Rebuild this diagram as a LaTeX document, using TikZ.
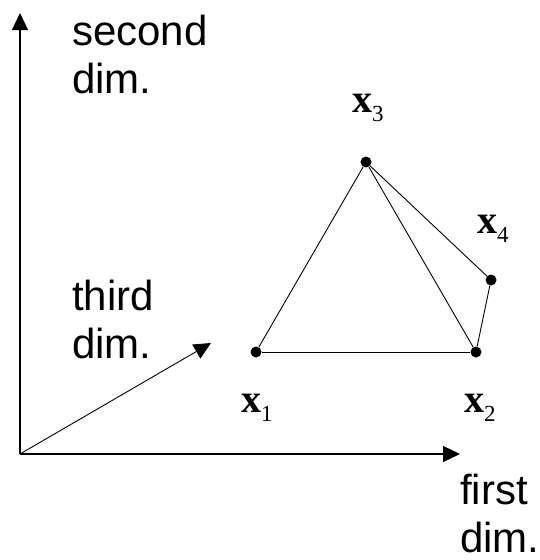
\documentclass[tikz,border=0pt]{standalone}
\usepackage{fontspec}
\setmainfont{Liberation Serif}
\newfontfamily\axisfont{Liberation Sans}
\usetikzlibrary{arrows.meta}
\tikzset{
  axis/.style={line width=1.1pt, -{Triangle[length=17pt,width=16pt]}},
  edge/.style={line width=0.9pt},
  pt/.style={circle, fill=black, inner sep=0pt, minimum size=11pt},
  axlabel/.style={font=\axisfont\fontsize{42}{48}\selectfont, align=left, inner sep=0pt, anchor=base west},
  ptlabel/.style={inner sep=0pt, anchor=base west, font=\fontsize{40}{42}\selectfont}
}
\newcommand{\vlab}[1]{\textbf{x}\raisebox{-9pt}{\fontsize{23}{24}\selectfont #1}}
\begin{document}
\begin{tikzpicture}[x=1pt,y=-1pt]
\useasboundingbox (0,0) rectangle (539,560);
\coordinate (O) at (20,454);
\coordinate (Y) at (20,13);
\coordinate (X) at (460,454);
\coordinate (Z) at (211,343);
\draw[axis] (O) -- (Y);
\draw[axis] (O) -- (X);
\draw[axis, line width=0.9pt] (O) -- (Z);
\node[axlabel] (l2) at (72,93) {second\\dim.};
\node[axlabel] (l3) at (72,358) {third\\dim.};
\node[axlabel] (l1) at (460,552) {first\\dim.};
\node[pt] (x1) at (256,352) {};
\node[pt] (x2) at (476,352) {};
\node[pt] (x3) at (366,162) {};
\node[pt] (x4) at (491,280) {};
\draw[edge] (x1) -- (x2);
\draw[edge] (x1) -- (x3);
\draw[edge] (x3) -- (x2);
\draw[edge] (x3) -- (x4);
\draw[edge] (x4) -- (x2);
\node[ptlabel] (t1) at (241,412) {\vlab{1}};
\node[ptlabel] (t2) at (464,412) {\vlab{2}};
\node[ptlabel] (t3) at (352,112) {\vlab{3}};
\node[ptlabel] (t4) at (477,233) {\vlab{4}};
\end{tikzpicture}
\end{document}
